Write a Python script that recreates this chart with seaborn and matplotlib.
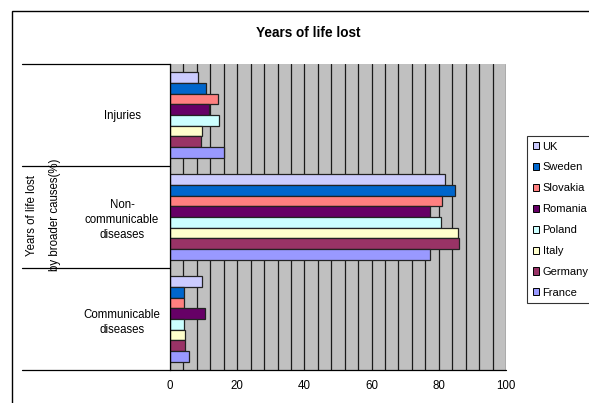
import matplotlib
matplotlib.use("Agg")
import matplotlib.pyplot as plt
from matplotlib.patches import Rectangle
import numpy as np
import pandas as pd
import seaborn as sns

# Share of years of life lost by broader cause (%), per country
causes = ["Injuries", "Non-communicable diseases", "Communicable diseases"]
cause_labels = ["Injuries", "Non-\ncommunicable\ndiseases", "Communicable\ndiseases"]
countries = ["UK", "Sweden", "Slovakia", "Romania", "Poland", "Italy", "Germany", "France"]

injuries = [8.4, 10.7, 14.4, 11.7, 14.7, 9.6, 9.3, 16.2]
non_communicable = [81.7, 84.7, 81.1, 77.4, 80.8, 85.6, 85.9, 77.4]
communicable = [9.4, 4.2, 4.2, 10.5, 4.2, 4.5, 4.5, 5.6]

colors = ["#CCCCFF", "#0066CC", "#FF8080", "#660066",
          "#CCFFFF", "#FFFFCC", "#993366", "#9999FF"]

rows = []
for cause, vals in zip(causes, [injuries, non_communicable, communicable]):
    for country, v in zip(countries, vals):
        rows.append({"cause": cause, "country": country, "value": v})
df = pd.DataFrame(rows)

sns.set_style("white")
plt.rcParams["font.family"] = ["Liberation Sans", "DejaVu Sans"]
plt.rcParams["text.color"] = "black"
plt.rcParams["xtick.color"] = "black"
plt.rcParams["ytick.color"] = "black"
plt.rcParams["axes.labelcolor"] = "black"

W, H = 589, 403
fig = plt.figure(figsize=(W / 100, H / 100), dpi=100)
ax = fig.add_axes([170 / W, 1 - 370 / H, (506 - 170) / W, (370 - 64) / H])

sns.barplot(data=df, y="cause", x="value", hue="country",
            order=causes, hue_order=countries, palette=colors,
            orient="h", width=0.84, edgecolor="#222222", linewidth=0.9,
            saturation=1, ax=ax)

ax.set_facecolor("#C0C0C0")
ax.set_xlim(0, 100)
ax.set_ylim(len(causes) - 0.5, -0.5)
ax.set_xticks(np.arange(0, 101, 20))
ax.set_xticks(np.arange(0, 101, 4), minor=True)
ax.set_axisbelow(True)
ax.xaxis.grid(True, which="both", color="#1a1a1a", linewidth=0.9)
ax.yaxis.grid(False)
ax.tick_params(axis="x", which="major", direction="out", length=3,
               width=0.8, color="black", pad=4, labelsize=8.3)
ax.tick_params(axis="x", which="minor", length=0)
ax.set_yticks(range(len(causes)))
ax.set_yticklabels(cause_labels, ha="center", multialignment="center",
                   fontsize=8.3, linespacing=1.35)
ax.tick_params(axis="y", length=0, pad=34.5)
ax.set_xlabel("")
ax.set_ylabel("")

for side in ["top", "right", "bottom"]:
    ax.spines[side].set_visible(False)
ax.spines["left"].set_color("black")
ax.spines["left"].set_linewidth(0.9)

# Category separators running out into the label area
ytr = ax.get_yaxis_transform()
for y in np.arange(-0.5, len(causes), 1.0):
    x_end = 1.0 if y == len(causes) - 0.5 else 0.0
    ax.plot([(22 - 170) / (506 - 170), x_end], [y, y], transform=ytr,
            color="black", linewidth=0.9, clip_on=False, zorder=5)

fig.text(43.5 / W, 1 - 215 / H, "Years of life lost\nby broader causes(%)",
         rotation=90, ha="center", va="center", multialignment="center",
         fontsize=8.3, linespacing=2.3)
fig.text(308 / W, 1 - 33 / H, "Years of life lost", ha="center", va="center",
         fontsize=9.8, fontweight="bold")

# Chart frame
fig.patches.append(Rectangle((12 / W, -0.2), 1.2, 1 - 11 / H + 0.2,
                             transform=fig.transFigure, fill=False,
                             edgecolor="black", linewidth=1.0))

handles, labels = ax.get_legend_handles_labels()
ax.legend_.remove()
leg = fig.legend(handles, labels, loc="upper left",
                 bbox_to_anchor=(527 / W, 1 - 136 / H),
                 bbox_transform=fig.transFigure, fontsize=8.0,
                 frameon=True, fancybox=False, shadow=False,
                 handlelength=0.6, handleheight=0.6, handletextpad=0.3,
                 labelspacing=0.98, borderpad=0.5, borderaxespad=0)
leg.get_frame().set_edgecolor("black")
leg.get_frame().set_linewidth(0.8)
for h in leg.legend_handles:
    h.set_edgecolor("black")
    h.set_linewidth(0.7)

fig.savefig("out.png", dpi=100)
